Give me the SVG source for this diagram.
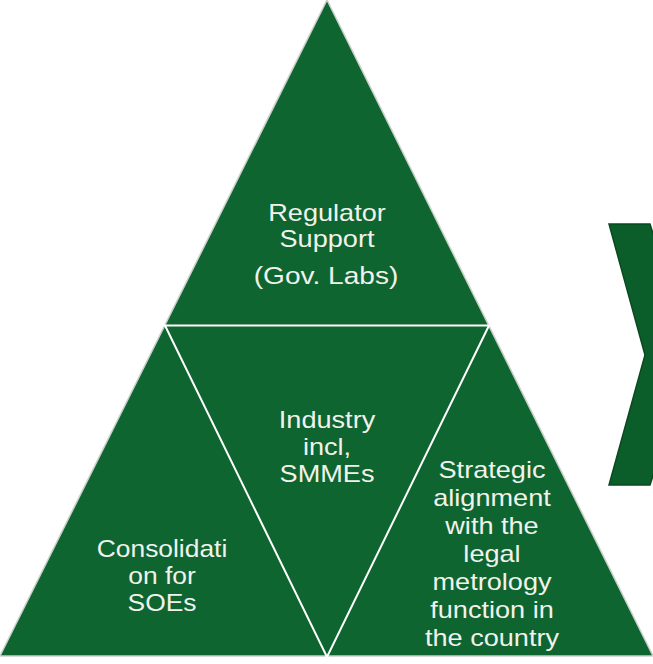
<svg xmlns="http://www.w3.org/2000/svg" width="653" height="664" viewBox="0 0 653 664">
<style>
.tri{fill:#0e6530;stroke:#c9cfc9;stroke-width:1.5}
.div{fill:none;stroke:#ffffff;stroke-width:2}
.chev{fill:#0b5e2a;stroke:#0a4a20;stroke-width:1.5}
text{font-family:"Liberation Sans",Arial,sans-serif;font-size:24px;fill:#f2f2ec;text-anchor:middle}
</style>
<rect width="653" height="664" fill="#ffffff"/>
<g id="pyramid">
<polygon class="tri" points="327,0 0,656 653,656"/>
</g>
<g id="connectors">
<line class="div" x1="164" y1="325.5" x2="491" y2="325.5"/>
<polyline class="div" points="165,325.5 327,657 489,325.5"/>
</g>
<g id="chevron">
<polygon class="chev" points="609,224 650,224 692,355 650,485 609,485 645,355"/>
</g>
<g id="top">
<text transform="translate(327,221) scale(1.13,1)">Regulator</text>
<text transform="translate(327,247) scale(1.13,1)">Support</text>
<text transform="translate(326,284) scale(1.17,1)">(Gov. Labs)</text>
</g>
<g id="center">
<text transform="translate(327,428) scale(1.13,1)">Industry</text>
<text transform="translate(327,455) scale(1.13,1)">incl,</text>
<text transform="translate(327,482) scale(1.13,1)">SMMEs</text>
</g>
<g id="left">
<text transform="translate(162,557) scale(1.1,1)">Consolidati</text>
<text transform="translate(162,584) scale(1.1,1)">on for</text>
<text transform="translate(162,611) scale(1.1,1)">SOEs</text>
</g>
<g id="right">
<text transform="translate(492,478) scale(1.13,1)">Strategic</text>
<text transform="translate(492,506) scale(1.13,1)">alignment</text>
<text transform="translate(492,534) scale(1.13,1)">with the</text>
<text transform="translate(492,562) scale(1.13,1)">legal</text>
<text transform="translate(492,590) scale(1.13,1)">metrology</text>
<text transform="translate(492,618) scale(1.13,1)">function in</text>
<text transform="translate(492,646) scale(1.13,1)">the country</text>
</g>
</svg>
